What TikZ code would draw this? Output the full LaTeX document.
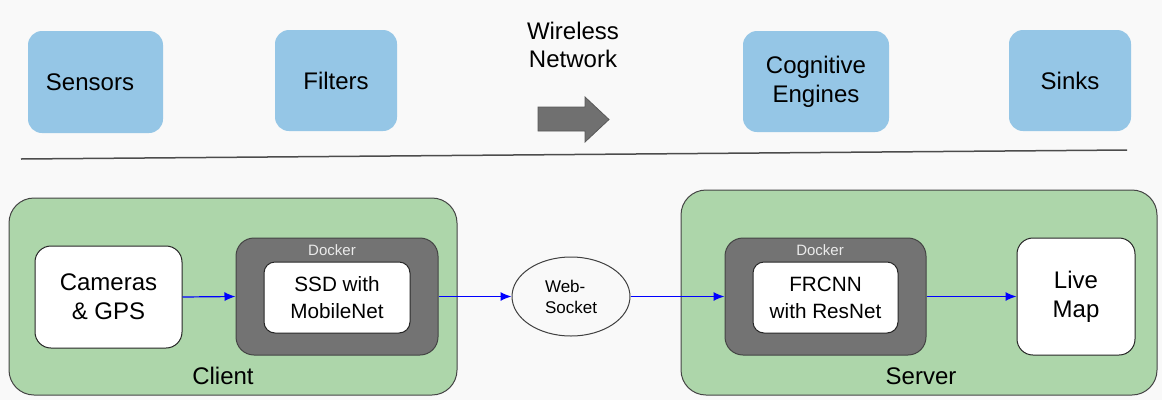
\documentclass[tikz,border=0pt]{standalone}
\usepackage{fontspec}
\setmainfont{Liberation Sans}
\usetikzlibrary{arrows.meta,shapes.geometric}
\definecolor{bgc}{HTML}{F9F9F9}
\definecolor{topblue}{HTML}{95C6E6}
\definecolor{greenc}{HTML}{ADD6AA}
\definecolor{dockgray}{HTML}{737373}
\definecolor{edgegray}{HTML}{444444}
\definecolor{bigarrow}{HTML}{707070}
\tikzset{
  topbox/.style={fill=topblue, draw=none, rounded corners=14pt, align=center,
    font=\fontsize{24}{29}\selectfont},
  groupbox/.style={fill=greenc, draw=edgegray, line width=1pt, rounded corners=25pt},
  dockbox/.style={fill=dockgray, draw=edgegray, line width=1pt, rounded corners=18pt},
  whitebox/.style={fill=white, draw=black!85, line width=1pt, align=center},
  docklabel/.style={text=white!92!black, font=\fontsize{15}{17}\selectfont, inner sep=0pt},
  grouplabel/.style={font=\fontsize{24}{28}\selectfont, inner sep=0pt},
  conn/.style={draw=blue, line width=1.2pt, -{Latex[length=11pt,width=9pt]}},
}
\begin{document}
\begin{tikzpicture}[x=1pt,y=-1pt]
\useasboundingbox[fill=bgc] (0,0) rectangle (1162,400);

% top row
\node[topbox, minimum width=135pt, minimum height=102pt] (sensors) at (95.5,82) {Sensors\hspace*{11pt}};
\node[topbox, minimum width=122pt, minimum height=101pt] (filters) at (336,80.5) {Filters};
\node[align=center, font=\fontsize{24}{28}\selectfont, inner sep=0pt] (wireless) at (573,45) {Wireless\\Network};
\node[topbox, minimum width=146pt, minimum height=101pt] (cog) at (816,81.5) {Cognitive\\Engines};
\node[topbox, minimum width=122pt, minimum height=101pt] (sinks) at (1070,80.5) {Sinks};
\draw[fill=bigarrow, draw=black!65, line width=0.8pt]
  (538,107) -- (585,107) -- (585,97) -- (609,119.5) -- (585,142) -- (585,131) -- (538,131) -- cycle;

% separator
\draw[draw=black!70, line width=1.5pt] (21,159) -- (1127,150);

% client group
\node[groupbox, minimum width=448pt, minimum height=197pt] (client) at (233,296.5) {};
\node[grouplabel] (clientlbl) at (223,376) {Client};
\node[whitebox, rounded corners=16pt, minimum width=147pt, minimum height=102pt,
  font=\fontsize{24}{29}\selectfont] (cam) at (108.5,297) {Cameras\\\& GPS};
\node[dockbox, minimum width=202pt, minimum height=117pt] (dock1) at (337,296.5) {};
\node[docklabel] (dock1lbl) at (332,250) {Docker};
\node[whitebox, rounded corners=11pt, minimum width=146pt, minimum height=71pt,
  font=\fontsize{20.7}{27}\selectfont] (ssd) at (337,297.5) {SSD with\\MobileNet};

% websocket
\node[ellipse, draw=black!75, fill=bgc, line width=1pt, minimum width=118pt, minimum height=79pt,
  align=left, font=\fontsize{17}{21}\selectfont, inner sep=0pt] (ws) at (571,296.5) {Web-\\Socket};

% server group
\node[groupbox, minimum width=476pt, minimum height=205pt] (server) at (919,292.5) {};
\node[grouplabel] (serverlbl) at (921,376) {Server};
\node[dockbox, minimum width=201pt, minimum height=117pt] (dock2) at (825.5,296.5) {};
\node[docklabel] (dock2lbl) at (820,250) {Docker};
\node[whitebox, rounded corners=11pt, minimum width=145pt, minimum height=71pt,
  font=\fontsize{20.7}{27}\selectfont] (frcnn) at (825.5,297.5) {FRCNN\\with ResNet};
\node[whitebox, rounded corners=16pt, minimum width=118pt, minimum height=117pt,
  font=\fontsize{24}{29}\selectfont] (live) at (1076,296.5) {Live\\Map};

% connectors
\draw[conn] (cam.east) -- (dock1.west);
\draw[conn] (dock1.east) -- (ws.west);
\draw[conn] (ws.east) -- (dock2.west);
\draw[conn] (dock2.east) -- (live.west);
\end{tikzpicture}
\end{document}
